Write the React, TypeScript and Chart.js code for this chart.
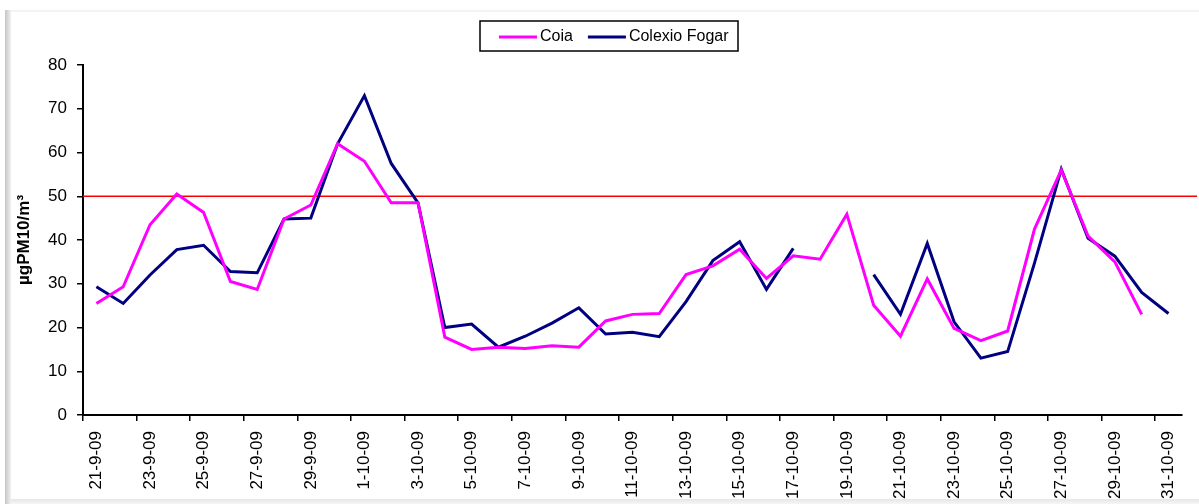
import React, { useEffect, useRef } from "react";
import { Chart, registerables } from "chart.js";

Chart.register(...registerables);

const categories: string[] = [
  "21-9-09", "22-9-09", "23-9-09", "24-9-09", "25-9-09", "26-9-09", "27-9-09", "28-9-09", "29-9-09", "30-9-09",
  "1-10-09", "2-10-09", "3-10-09", "4-10-09", "5-10-09", "6-10-09", "7-10-09", "8-10-09", "9-10-09", "10-10-09",
  "11-10-09", "12-10-09", "13-10-09", "14-10-09", "15-10-09", "16-10-09", "17-10-09", "18-10-09", "19-10-09", "20-10-09",
  "21-10-09", "22-10-09", "23-10-09", "24-10-09", "25-10-09", "26-10-09", "27-10-09", "28-10-09", "29-10-09", "30-10-09",
  "31-10-09",
];

const coia: (number | null)[] = [
  25.5, 29.3, 43.5, 50.5, 46.3, 30.5, 28.7, 44.8, 48, 62,
  58, 48.5, 48.5, 17.8, 15, 15.5, 15.2, 15.8, 15.5, 21.5,
  23, 23.2, 32.1, 34.1, 37.9, 31.2, 36.4, 35.6, 45.9, 25.1,
  18, 31.1, 19.8, 17, 19.2, 42.5, 56, 40.9, 35, 23,
  null,
];

const colexioFogar: (number | null)[] = [
  29.3, 25.5, 32, 37.8, 38.8, 32.8, 32.5, 44.8, 45, 62,
  73, 57.5, 48.5, 20, 20.8, 15.5, 18, 21, 24.5, 18.5,
  18.9, 17.9, 25.9, 35.3, 39.6, 28.7, 38.1, null, null, 32.1,
  23, 39.2, 21.3, 13, 14.5, 34.7, 56.2, 40.4, 36.3, 28,
  23.2,
];

const limitValue = 50;
const yTicks = { min: 0, max: 80, step: 10 };
const yTitle = "µgPM10/m³";
const seriesNames = ["Coia", "Colexio Fogar"];
const seriesColors = ["#FF00FF", "#000080"];

const FONT = "'Liberation Sans', Arial, sans-serif";

const framePlugin = {
  id: "frame",
  beforeDraw(chart: any) {
    const { ctx, width, height } = chart;
    ctx.save();
    ctx.fillStyle = "#ffffff";
    ctx.fillRect(0, 0, width, height);
    const g = ctx.createLinearGradient(5, 0, 11, 0);
    g.addColorStop(0, "#c4c4c4");
    g.addColorStop(1, "#f2f2f2");
    ctx.fillStyle = g;
    ctx.fillRect(5, 10, 6, height - 10);
    ctx.fillStyle = "#f3f3f3";
    ctx.fillRect(11, 10, width - 11, 2);
    const gb = ctx.createLinearGradient(0, height - 5, 0, height);
    gb.addColorStop(0, "#e6e6e6");
    gb.addColorStop(1, "#f6f6f6");
    ctx.fillStyle = gb;
    ctx.fillRect(11, height - 5, width - 11, 5);
    ctx.restore();
  },
};

const limitPlugin = {
  id: "limitLine",
  beforeDatasetsDraw(chart: any) {
    const { ctx, chartArea, scales } = chart;
    const y = scales.y.getPixelForValue(limitValue);
    ctx.save();
    ctx.strokeStyle = "#FF0000";
    ctx.lineWidth = 1.5;
    ctx.beginPath();
    ctx.moveTo(chartArea.left, y);
    ctx.lineTo(chart.width - 2, y);
    ctx.stroke();
    ctx.restore();
  },
};

const legendPlugin = {
  id: "boxLegend",
  afterDraw(chart: any) {
    const { ctx } = chart;
    const boxLeft = 480;
    const boxTop = 21;
    const boxW = 258;
    const boxH = 30;
    ctx.save();
    ctx.strokeStyle = "#000000";
    ctx.lineWidth = 1.5;
    ctx.strokeRect(boxLeft, boxTop, boxW, boxH);
    ctx.font = `16px ${FONT}`;
    ctx.textBaseline = "middle";
    ctx.fillStyle = "#000000";
    const cy = boxTop + boxH / 2 + 1;
    let x = boxLeft + 19;
    chart.data.datasets.forEach((ds: any) => {
      ctx.strokeStyle = ds.borderColor;
      ctx.lineWidth = 3;
      ctx.beginPath();
      ctx.moveTo(x, cy);
      ctx.lineTo(x + 38, cy);
      ctx.stroke();
      ctx.fillText(ds.label, x + 41, cy);
      x += 41 + ctx.measureText(ds.label).width + 15;
    });
    ctx.restore();
  },
};

export default function App() {
  const canvasRef = useRef<HTMLCanvasElement | null>(null);

  useEffect(() => {
    document.body.style.margin = "0";
    const canvas = canvasRef.current;
    if (!canvas) return;
    const chart = new Chart(canvas, {
      type: "line",
      data: {
        labels: categories,
        datasets: [
          {
            label: seriesNames[0],
            data: coia,
            borderColor: seriesColors[0],
            backgroundColor: seriesColors[0],
            borderWidth: 3,
            borderJoinStyle: "miter",
            pointRadius: 0,
            tension: 0,
            spanGaps: false,
          },
          {
            label: seriesNames[1],
            data: colexioFogar,
            borderColor: seriesColors[1],
            backgroundColor: seriesColors[1],
            borderWidth: 3,
            borderJoinStyle: "miter",
            pointRadius: 0,
            tension: 0,
            spanGaps: false,
          },
        ],
      },
      options: {
        animation: false,
        responsive: true,
        maintainAspectRatio: false,
        layout: { padding: { left: 0, right: 9, top: 65, bottom: 0 } },
        plugins: {
          legend: { display: false },
          tooltip: { enabled: false },
        },
        scales: {
          x: {
            type: "category",
            offset: true,
            afterFit: (scale: any) => {
              scale.height = 89;
            },
            grid: {
              offset: true,
              drawOnChartArea: false,
              drawTicks: true,
              tickLength: 6,
              lineWidth: 1.5,
              color: (ctx: any) => (ctx.index % 2 === 0 ? "#000000" : "rgba(0,0,0,0)"),
              tickColor: (ctx: any) => (ctx.index % 2 === 0 ? "#000000" : "rgba(0,0,0,0)"),
            },
            border: { display: true, color: "#000000", width: 2 },
            ticks: {
              autoSkip: false,
              minRotation: 90,
              maxRotation: 90,
              padding: 10,
              color: "#000000",
              font: { family: FONT, size: 17 },
              callback: function (this: any, _v: any, index: number) {
                return index % 2 === 0 ? categories[index] : "";
              },
            },
          },
          y: {
            min: yTicks.min,
            max: yTicks.max,
            afterFit: (scale: any) => {
              scale.width = 83;
            },
            grid: {
              drawOnChartArea: false,
              drawTicks: true,
              tickLength: 6,
              lineWidth: 1.5,
              color: "#000000",
              tickColor: "#000000",
            },
            border: { display: true, color: "#000000", width: 2 },
            ticks: {
              stepSize: yTicks.step,
              padding: 10,
              color: "#000000",
              font: { family: FONT, size: 17 },
            },
            title: {
              display: true,
              text: yTitle,
              color: "#000000",
              font: { family: FONT, size: 17, weight: "bold" },
              padding: { top: 14, bottom: 0 },
            },
          },
        },
      },
      plugins: [framePlugin, limitPlugin, legendPlugin],
    });
    return () => chart.destroy();
  }, []);

  return (
    <div style={{ width: 1199, height: 504, position: "relative" }}>
      <canvas ref={canvasRef} />
    </div>
  );
}
